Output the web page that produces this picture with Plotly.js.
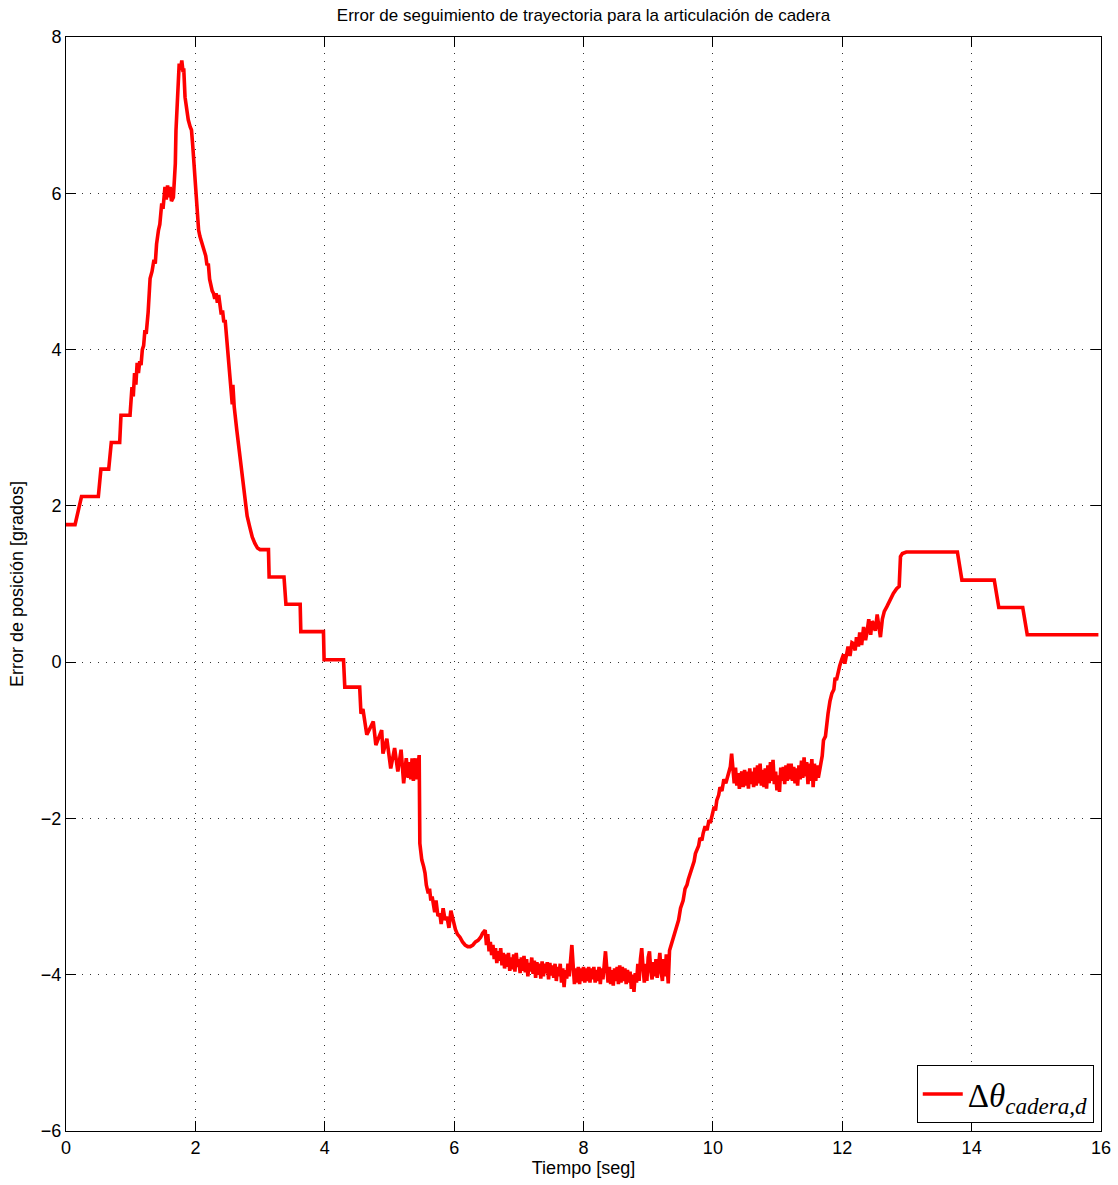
<!DOCTYPE html>
<html>
<head>
<meta charset="utf-8">
<script src="https://cdn.plot.ly/plotly-3.0.1.min.js"></script>
<style>
html,body{margin:0;padding:0;background:#fff;}
#chart{width:1118px;height:1185px;}
</style>
</head>
<body>
<div id="chart"></div>
<script>
// ---- Data: time [s] and position error [deg], split in segments ----
// Segment A: steps, peak and descent (0 - 5.46 s)
const tA = [
0,0.14,0.24,0.50,0.54,0.66,0.70,0.83,0.85,0.99,
1.02,1.04,1.06,1.08,1.10,1.12,1.14,1.16,1.18,1.20,
1.22,1.24,1.27,1.29,1.30,1.33,1.36,1.38,1.40,1.43,
1.45,1.48,1.50,1.53,1.55,1.57,1.59,1.61,1.63,1.66,
1.68,1.69,1.70,1.71,1.73,1.75,1.77,1.79,1.81,1.82,
1.84,1.86,1.89,1.92,1.94,1.96,1.97,1.99,2.01,2.03,
2.05,2.07,2.09,2.12,2.14,2.16,2.18,2.20,2.22,2.24,
2.26,2.28,2.30,2.32,2.34,2.36,2.38,2.40,2.42,2.44,
2.46,2.48,2.51,2.53,2.55,2.57,2.58,2.60,2.64,2.68,
2.72,2.77,2.80,2.84,2.88,2.92,2.96,3.00,3.13,3.14,
3.37,3.40,3.62,3.63,3.98,3.99,4.29,4.31,4.54,4.56,
4.59,4.65,4.70,4.75,4.79,4.84,4.88,4.90,4.96,5.02,
5.05,5.08,5.13,5.18,5.22,5.26,5.29,5.31,5.33,5.35,
5.37,5.40,5.42,5.44,5.46];
const vA = [
1.76,1.76,2.12,2.12,2.47,2.47,2.81,2.81,3.16,3.16,
3.52,3.40,3.70,3.55,3.83,3.70,3.85,3.80,4.00,4.05,
4.25,4.20,4.48,4.70,4.91,5.00,5.15,5.10,5.35,5.53,
5.60,5.87,5.80,6.08,5.92,6.10,5.95,6.08,5.90,5.95,
6.20,6.38,6.80,7.02,7.40,7.66,7.58,7.70,7.55,7.60,
7.23,7.10,6.94,6.85,6.81,6.60,6.47,6.20,5.95,5.70,
5.53,5.45,5.40,5.31,5.25,5.20,5.08,5.10,4.90,4.80,
4.75,4.72,4.65,4.72,4.60,4.70,4.55,4.45,4.50,4.35,
4.38,4.20,3.86,3.70,3.50,3.30,3.55,3.27,2.97,2.70,
2.41,2.03,1.87,1.73,1.60,1.52,1.46,1.44,1.44,1.09,
1.09,0.74,0.74,0.39,0.39,0.03,0.03,-0.32,-0.32,-0.66,
-0.60,-0.93,-0.85,-0.76,-1.06,-0.95,-0.87,-1.17,-0.98,-1.36,
-1.20,-1.10,-1.40,-1.12,-1.55,-1.23,-1.48,-1.28,-1.50,-1.23,
-1.52,-1.23,-1.50,-1.30,-1.19];
// Segment B: drop at 5.47 s
const tB = [
5.47,5.50,5.53,5.55,5.57,5.60,5.62,5.64,5.66,5.68,
5.70,5.72,5.75,5.78,5.80,5.83,5.86,5.89,5.92,5.95,
5.99,6.02,6.05,6.09,6.13,6.17,6.21,6.25,6.29,6.33,
6.37,6.41,6.44,6.48];
const vB = [
-2.32,-2.53,-2.62,-2.70,-2.85,-2.96,-2.90,-3.05,-3.00,-3.09,
-3.20,-3.05,-3.25,-3.22,-3.35,-3.15,-3.30,-3.26,-3.40,-3.18,
-3.34,-3.42,-3.48,-3.52,-3.58,-3.62,-3.64,-3.64,-3.62,-3.58,
-3.56,-3.52,-3.47,-3.43];
// Segment C: noisy minimum (6.50 - 9.31 s)
const tC = [
6.50,6.52,6.54,6.56,6.58,6.60,6.62,6.64,6.66,6.68,
6.70,6.72,6.74,6.76,6.78,6.80,6.82,6.84,6.86,6.88,
6.90,6.92,6.94,6.96,6.98,7.00,7.02,7.04,7.06,7.08,
7.10,7.12,7.14,7.16,7.18,7.20,7.22,7.24,7.26,7.28,
7.30,7.32,7.34,7.36,7.38,7.40,7.42,7.44,7.46,7.48,
7.50,7.52,7.54,7.56,7.58,7.60,7.62,7.64,7.66,7.68,
7.70,7.72,7.74,7.76,7.78,7.80,7.82,7.84,7.86,7.88,
7.90,7.92,7.94,7.96,7.98,8.00,8.02,8.04,8.06,8.08,
8.10,8.12,8.14,8.16,8.18,8.20,8.22,8.24,8.26,8.28,
8.30,8.32,8.34,8.36,8.38,8.40,8.42,8.44,8.46,8.48,
8.50,8.52,8.54,8.56,8.58,8.60,8.62,8.64,8.66,8.68,
8.70,8.72,8.74,8.76,8.78,8.80,8.82,8.84,8.86,8.88,
8.90,8.92,8.94,8.96,8.98,9.00,9.02,9.04,9.06,9.08,
9.10,9.12,9.14,9.16,9.18,9.20,9.22,9.24,9.26,9.28,
9.30,9.31];
const vC = [
-3.62,-3.48,-3.70,-3.58,-3.75,-3.62,-3.80,-3.66,-3.85,-3.70,
-3.82,-3.66,-3.88,-3.72,-3.92,-3.74,-3.90,-3.72,-3.95,-3.78,
-3.93,-3.74,-3.96,-3.72,-3.90,-3.80,-3.98,-3.78,-3.95,-3.76,
-3.97,-3.80,-4.02,-3.85,-3.96,-3.78,-3.99,-3.82,-4.04,-3.84,
-4.00,-3.86,-4.05,-3.83,-4.02,-3.86,-3.98,-3.84,-4.06,-3.85,
-4.01,-3.88,-4.04,-3.86,-4.08,-3.90,-4.02,-3.86,-4.10,-3.92,
-4.16,-3.94,-4.05,-3.86,-4.02,-3.80,-3.62,-3.88,-4.12,-3.92,
-4.10,-3.90,-4.12,-3.92,-4.08,-3.90,-4.10,-3.92,-4.08,-3.90,
-4.10,-3.92,-4.06,-3.90,-4.10,-3.94,-4.08,-3.90,-4.12,-3.92,
-4.06,-3.88,-3.70,-3.92,-4.10,-3.90,-4.12,-3.94,-4.14,-3.92,
-4.08,-3.90,-4.12,-3.88,-4.10,-3.90,-4.08,-3.92,-4.12,-3.94,
-4.10,-3.96,-4.18,-4.00,-4.22,-3.98,-4.10,-3.86,-4.08,-3.80,
-3.66,-3.90,-4.10,-3.86,-4.08,-3.78,-3.70,-3.95,-4.06,-3.84,
-4.02,-3.80,-4.04,-3.88,-3.72,-3.96,-4.08,-3.80,-4.02,-3.74,
-4.10,-4.11];
// Segment D: recovery (9.33 - 10.27 s)
const tD = [
9.33,9.36,9.40,9.44,9.47,9.50,9.54,9.57,9.60,9.62,
9.65,9.68,9.71,9.73,9.75,9.78,9.80,9.83,9.85,9.88,
9.91,9.94,9.96,9.99,10.02,10.04,10.06,10.09,10.11,10.14,
10.17,10.20,10.23,10.25,10.27];
const vD = [
-3.69,-3.60,-3.50,-3.39,-3.30,-3.15,-3.05,-2.90,-2.85,-2.78,
-2.70,-2.60,-2.55,-2.45,-2.41,-2.35,-2.25,-2.28,-2.19,-2.10,
-2.15,-2.02,-2.06,-1.95,-1.85,-1.90,-1.77,-1.70,-1.60,-1.65,
-1.50,-1.55,-1.45,-1.40,-1.34];
// Segment E: noisy plateau (10.29 - 11.66 s)
const tE = [
10.29,10.31,10.33,10.35,10.37,10.39,10.41,10.43,10.45,10.47,
10.49,10.51,10.53,10.55,10.57,10.59,10.61,10.63,10.65,10.67,
10.69,10.71,10.73,10.75,10.77,10.79,10.81,10.83,10.85,10.87,
10.89,10.91,10.93,10.95,10.97,10.99,11.01,11.03,11.05,11.07,
11.09,11.11,11.13,11.15,11.17,11.19,11.21,11.23,11.25,11.27,
11.29,11.31,11.33,11.35,11.37,11.39,11.41,11.43,11.45,11.47,
11.49,11.51,11.53,11.55,11.57,11.59,11.61,11.63,11.65,11.66];
const vE = [
-1.17,-1.40,-1.55,-1.35,-1.58,-1.42,-1.62,-1.45,-1.40,-1.60,
-1.38,-1.58,-1.40,-1.62,-1.36,-1.56,-1.40,-1.60,-1.35,-1.58,
-1.32,-1.55,-1.30,-1.58,-1.38,-1.60,-1.36,-1.62,-1.32,-1.55,
-1.28,-1.52,-1.25,-1.56,-1.40,-1.64,-1.45,-1.66,-1.35,-1.52,
-1.34,-1.56,-1.32,-1.52,-1.30,-1.50,-1.30,-1.52,-1.34,-1.55,
-1.36,-1.58,-1.32,-1.50,-1.26,-1.48,-1.22,-1.46,-1.28,-1.56,
-1.30,-1.52,-1.24,-1.60,-1.30,-1.52,-1.32,-1.48,-1.34,-1.34];
// Segment F: rise and final steps (11.69 - 15.96 s)
const tF = [
11.69,11.71,11.74,11.76,11.78,11.81,11.84,11.87,11.89,11.91,
11.94,11.96,11.99,12.02,12.04,12.07,12.09,12.12,12.15,12.17,
12.20,12.22,12.25,12.27,12.30,12.33,12.36,12.38,12.41,12.44,
12.46,12.48,12.51,12.54,12.56,12.59,12.62,12.65,12.69,12.74,
12.79,12.84,12.88,12.90,12.93,12.99,13.78,13.85,14.35,14.42,
14.79,14.86,15.96];
const vF = [
-1.20,-1.00,-0.95,-0.75,-0.66,-0.50,-0.40,-0.35,-0.20,-0.23,
-0.10,-0.05,0.03,0.10,-0.02,0.11,0.20,0.08,0.25,0.24,
0.15,0.32,0.20,0.38,0.22,0.45,0.28,0.37,0.55,0.35,
0.52,0.50,0.40,0.61,0.45,0.32,0.55,0.65,0.71,0.80,
0.88,0.94,0.97,1.35,1.39,1.41,1.41,1.05,1.05,0.70,
0.70,0.35,0.35];

const tiempo = [].concat(tA, tB, tC, tD, tE, tF);
const errorCadera = [].concat(vA, vB, vC, vD, vE, vF);

const xTicks = [0,2,4,6,8,10,12,14,16];
const yTicks = [-6,-4,-2,0,2,4,6,8];
const titulo = 'Error de seguimiento de trayectoria para la articulación de cadera';
const xLabel = 'Tiempo [seg]';
const yLabel = 'Error de posición [grados]';
const legendName = 'Δ<i>θ</i><sub><i>cadera,d</i></sub>';

const font = 'Liberation Sans, Arial, Helvetica, sans-serif';
const axisCommon = {
  showline: true, linecolor: '#000', linewidth: 1, mirror: 'ticks',
  ticks: 'inside', ticklen: 10, tickcolor: '#000', tickwidth: 1,
  showgrid: true, gridcolor: '#333', gridwidth: 1, griddash: '1px,7px',
  zeroline: false, tickfont: {family: font, size: 18, color: '#000'},
  automargin: false
};

const trace = {
  x: tiempo, y: errorCadera, type: 'scatter', mode: 'lines',
  name: legendName,
  line: {color: '#ff0000', width: 3.6, shape: 'linear'}
};

const layout = {
  width: 1118, height: 1185,
  margin: {l: 66, r: 17, t: 37, b: 54},
  paper_bgcolor: '#fff', plot_bgcolor: '#fff',
  title: {text: titulo, font: {family: font, size: 17, color: '#000'},
          x: 0.5, xref: 'paper', xanchor: 'center', y: 1 - 15/1185, yref: 'container', yanchor: 'middle'},
  xaxis: Object.assign({}, axisCommon, {
    range: [0, 16], tickvals: xTicks, ticktext: xTicks.map(String),
    title: {text: xLabel, font: {family: font, size: 18, color: '#000'}, standoff: 4}
  }),
  yaxis: Object.assign({}, axisCommon, {
    range: [-6, 8], tickvals: yTicks,
    title: {text: yLabel, font: {family: font, size: 18, color: '#000'}, standoff: 12}
  }),
  showlegend: true,
  legend: {
    x: 0.993, y: 0.0073, xanchor: 'right', yanchor: 'bottom',
    bgcolor: '#fff', bordercolor: '#000', borderwidth: 1,
    font: {family: 'Liberation Serif, DejaVu Serif, serif', size: 33, color: '#000'},
    itemwidth: 40, entrywidth: 190, entrywidthmode: 'pixels'
  }
};

Plotly.newPlot('chart', [trace], layout, {staticPlot: true, displayModeBar: false});
</script>
</body>
</html>
